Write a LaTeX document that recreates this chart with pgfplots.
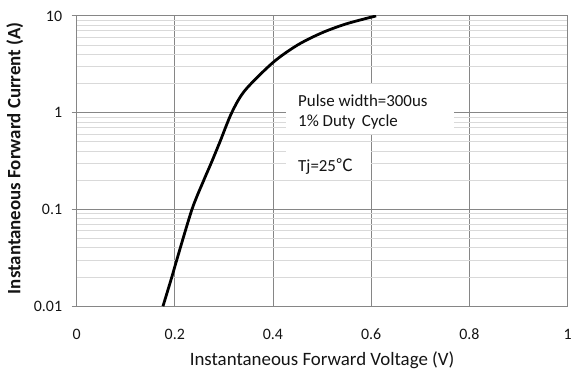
\documentclass[border=0pt]{standalone}
\usepackage{pgfplots}
\pgfplotsset{compat=1.18}
\usepackage{fontspec}
\setmainfont{Carlito}
\newfontfamily\cjk{Noto Sans CJK SC}
\definecolor{majgrid}{RGB}{134,134,134}
\definecolor{mingrid}{RGB}{217,217,217}
\definecolor{txt}{RGB}{20,20,20}
\begin{document}
\begin{tikzpicture}
\begin{axis}[
  scale only axis, width=494pt, height=292pt,
  xmin=0, xmax=1, ymin=0.01, ymax=10, ymode=log,
  xtick={0,0.2,0.4,0.6,0.8,1}, xticklabels={0,0.2,0.4,0.6,0.8,1},
  ytick={0.01,0.1,1,10}, yticklabels={0.01,0.1,1,10},
  minor ytick={0.02,0.03,0.04,0.05,0.06,0.07,0.08,0.09,0.2,0.3,0.4,0.5,0.6,0.7,0.8,0.9,2,3,4,5,6,7,8,9},
  grid=both,
  major grid style={color=majgrid, line width=0.9pt},
  minor grid style={color=mingrid, line width=0.9pt},
  axis line style={color=majgrid, line width=0.9pt},
  xtick pos=bottom, ytick pos=left,
  tick align=outside, major tick length=5pt, minor tick length=0pt,
  xtick style={draw=none},
  ytick style={color=majgrid, line width=0.9pt},
  tick label style={font=\fontsize{16}{19}\selectfont, text=txt},
  xticklabel style={anchor=center, yshift=-23pt},
  yticklabel style={anchor=east, xshift=-6pt},
  xlabel={Instantaneous Forward Voltage (V)},
  ylabel={\bfseries Instantaneous Forward Current (A)},
  label style={font=\fontsize{19}{22}\selectfont, text=txt},
  xlabel style={at={(axis description cs:0.5,-0.185)}, anchor=center},
  ylabel style={at={(axis description cs:-0.1255,0.51)}, anchor=center, rotate=0},
]
\addplot[black, line width=2.8pt, smooth, tension=0.5] coordinates {
(0.176,0.01) (0.194,0.02) (0.204,0.03) (0.235,0.1) (0.259,0.2) (0.274,0.3) (0.292,0.5) (0.316,1) (0.343,1.7) (0.4,3.3) (0.45,5.0) (0.5,6.7) (0.55,8.3) (0.61,10)
};
\fill[white] (axis cs:0.427,1.97) rectangle (axis cs:0.769,0.604);
\fill[white] (axis cs:0.427,0.424) rectangle (axis cs:0.599,0.2083);
\node[anchor=west, text=txt, font=\fontsize{17}{20}\selectfont, inner sep=0pt] at (axis cs:0.451,1.328) {Pulse width=300us};
\node[anchor=west, text=txt, font=\fontsize{17}{20}\selectfont, inner sep=0pt] at (axis cs:0.451,0.802) {1\% Duty\, Cycle};
\node[anchor=west, text=txt, font=\fontsize{17}{20}\selectfont, inner sep=0pt] at (axis cs:0.451,0.2767) {Tj=25{\cjk ℃}};
\end{axis}
\path ([shift={(-77pt,-66pt)}]current axis.south west) rectangle ([shift={(4pt,16pt)}]current axis.north east);
\end{tikzpicture}
\end{document}
